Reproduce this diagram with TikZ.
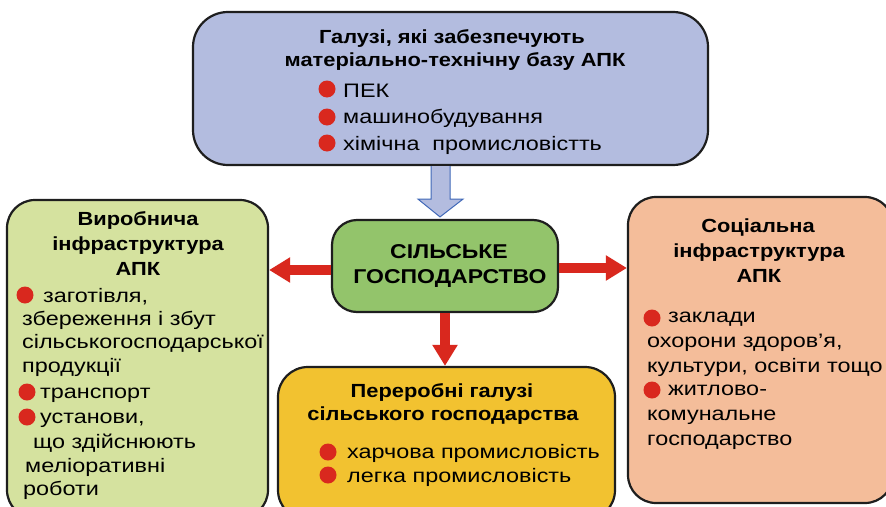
\documentclass[tikz,border=0pt]{standalone}
\usepackage{fontspec}
\setmainfont{Liberation Sans}[FakeStretch=1.2, BoldFeatures={FakeStretch=1.15}]
\usetikzlibrary{arrows.meta,calc}
\definecolor{topc}{HTML}{B3BCDF}
\definecolor{greenc}{HTML}{93C46B}
\definecolor{leftc}{HTML}{D5E29F}
\definecolor{rightc}{HTML}{F4BD9A}
\definecolor{yellowc}{HTML}{F2C230}
\definecolor{redc}{HTML}{D9281E}
\definecolor{bluec}{HTML}{4169B8}
\definecolor{edgec}{HTML}{1E1E1E}
\tikzset{
  box/.style={draw=edgec, line width=2.2pt, rounded corners=#1, inner sep=0pt},
  box/.default=30pt,
  tl/.style={anchor=base west, inner sep=0pt, font=\fontsize{19.5}{23}\selectfont},
  tc/.style={anchor=base, inner sep=0pt, font=\fontsize{19}{23}\selectfont\bfseries},
  tg/.style={anchor=base, inner sep=0pt, font=\fontsize{20}{24}\selectfont\bfseries},
  dot/.style={circle, fill=redc, minimum size=17pt, inner sep=0pt},
  redarrow/.style={draw=redc, line width=10pt, -{Triangle[width=24pt,length=21pt]}},
  bluearrow/.style={fill=topc, draw=bluec, line width=1pt, line join=miter},
}
\begin{document}
\begin{tikzpicture}[x=1pt,y=-1pt]
\useasboundingbox (0,0) rectangle (886,506);
\clip (0,0) rectangle (886,506);
\fill[white] (0,0) rectangle (886,506);

% boxes
\node[box=35pt, fill=topc, minimum width=515pt, minimum height=153pt] (top) at (450.5,88.5) {};
\node[box=28pt, fill=leftc, minimum width=261pt, minimum height=318pt] (left) at (137.5,359) {};
\node[box=28pt, fill=rightc, minimum width=265pt, minimum height=306pt] (right) at (760.5,350) {};
\node[box=25pt, fill=greenc, minimum width=226pt, minimum height=92pt] (green) at (445,266) {};
\node[box=30pt, fill=yellowc, minimum width=337pt, minimum height=153pt] (yellow) at (446.5,443.5) {};

% blue arrow
\coordinate (bs) at (top.south -| green.north);
\draw[bluearrow] ($(bs)+(-14,0)$) -- ($(bs)+(-14,33)$) -- ($(bs)+(-27,33)$) -- ($(green.north)+(-5,-2)$)
  -- ($(bs)+(18,33)$) -- ($(bs)+(5,33)$) -- ($(bs)+(5,0)$);

% red arrows
\draw[redarrow] ($(green.west)+(0,4)$) -- ($(green.west -| left.east)+(0,4)$);
\draw[redarrow] ($(green.east)+(0,2)$) -- ($(green.east -| right.west)+(0,2)$);
\draw[redarrow] (green.south) -- (green.south |- yellow.north);

% top box text
\node[tc] (top1) at (452,43) {Галузі, які забезпечують};
\node[tc] (top2) at (455,66) {матеріально-технічну базу АПК};
\node[dot] (td1) at (327,89) {};
\node[tl] (top3) at (343,97) {ПЕК};
\node[dot] (td2) at (327,117) {};
\node[tl] (top4) at (343,123) {машинобудування};
\node[dot] (td3) at (327,143) {};
\node[tl] (top5) at (343,150) {хімічна\ \ промисловістть};

% green text
\node[tg] (g1) at (449,258) {СІЛЬСЬКЕ};
\node[tg] (g2) at (450,283) {ГОСПОДАРСТВО};

% left box text
\node[tc] (l1) at (138,225) {Виробнича};
\node[tc] (l2) at (138,250) {інфраструктура};
\node[tc] (l3) at (138,275) {АПК};
\node[dot] (ld1) at (25,295) {};
\node[tl] (l4) at (43,302) {заготівля,};
\node[tl] (l5) at (22,325) {збереження і збут};
\node[tl] (l6) at (22,348) {сільськогосподарської};
\node[tl] (l7) at (22,372) {продукції};
\node[dot] (ld2) at (27,392) {};
\node[tl] (l8) at (40,398) {транспорт};
\node[dot] (ld3) at (27,417) {};
\node[tl] (l9) at (40,423) {установи,};
\node[tl] (l10) at (33,448) {що здійснюють};
\node[tl] (l11) at (25,472) {меліоративні};
\node[tl] (l12) at (23,495) {роботи};

% right box text
\node[tc] (r1) at (758,232) {Соціальна};
\node[tc] (r2) at (759,257) {інфраструктура};
\node[tc] (r3) at (759,282) {АПК};
\node[dot] (rd1) at (652,318) {};
\node[tl] (r4) at (668,322) {заклади};
\node[tl] (r5) at (647,347) {охорони здоров’я,};
\node[tl] (r6) at (647,372) {культури, освіти тощо};
\node[dot] (rd2) at (652,390) {};
\node[tl] (r7) at (668,395) {житлово-};
\node[tl] (r8) at (647,420) {комунальне};
\node[tl] (r9) at (647,445) {господарство};

% yellow box text
\node[tc] (y1) at (442,397) {Переробні галузі};
\node[tc] (y2) at (443,420) {сільського господарства};
\node[dot] (yd1) at (328,452) {};
\node[tl] (y3) at (347,458) {харчова промисловість};
\node[dot] (yd2) at (328,475) {};
\node[tl] (y4) at (347,482) {легка промисловість};
\end{tikzpicture}
\end{document}
